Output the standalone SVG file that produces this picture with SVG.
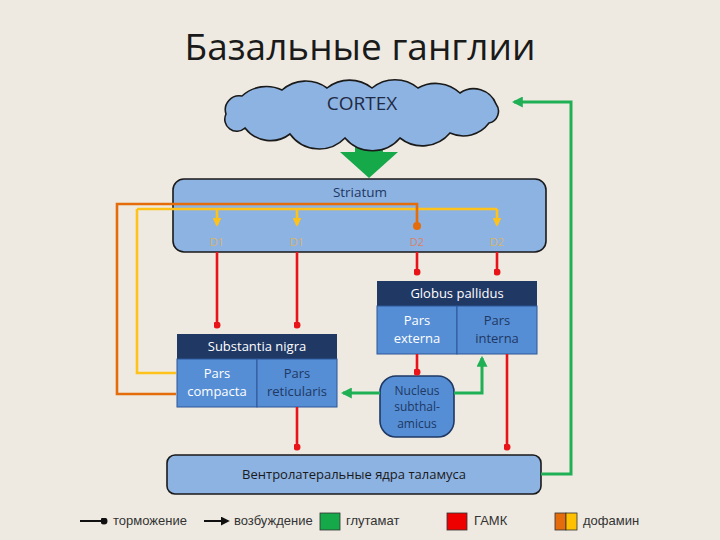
<svg xmlns="http://www.w3.org/2000/svg" width="720" height="540" viewBox="0 0 720 540">
<style>
.bg{fill:#EEEAE1}
.title{font-family:"Open Sans","Liberation Sans",sans-serif;font-size:37px;fill:#1a1a1a;text-anchor:middle}
.lbl{font-family:"Open Sans","Liberation Sans",sans-serif;text-anchor:middle}
.box{fill:#8DB3E2;stroke:#1a1a1a;stroke-width:1.6}
.hdr{fill:#1F3864}
.cell{fill:#558ED5;stroke:#2F5597;stroke-width:1}
.w{fill:#FFFFFF}
.d{fill:#1F3864}
.red{fill:none;stroke:#E8141A;stroke-width:2.6}
.grn{fill:none;stroke:#1FAF55;stroke-width:3}
.org{fill:none;stroke:#E46C0A;stroke-width:2.6}
.yel{fill:none;stroke:#FFC21A;stroke-width:2.6}
.blk{fill:none;stroke:#111;stroke-width:2}
.leg{font-family:"Liberation Sans",sans-serif;font-size:13px;fill:#333}
</style>
<defs>
<marker id="dotR" viewBox="0 0 10 10" refX="5" refY="5" markerWidth="7" markerHeight="7" markerUnits="userSpaceOnUse"><circle cx="5" cy="5" r="5" fill="#E8141A"/></marker>
<marker id="dotO" viewBox="0 0 10 10" refX="5" refY="5" markerWidth="8" markerHeight="8" markerUnits="userSpaceOnUse"><circle cx="5" cy="5" r="5" fill="#E46C0A"/></marker>
<marker id="dotK" viewBox="0 0 10 10" refX="5" refY="5" markerWidth="7" markerHeight="7" markerUnits="userSpaceOnUse"><circle cx="5" cy="5" r="5" fill="#111"/></marker>
<marker id="arY" viewBox="0 0 10 10" refX="8" refY="5" markerWidth="9" markerHeight="9" markerUnits="userSpaceOnUse" orient="auto"><path d="M0,0 L10,5 L0,10 z" fill="#FFC21A"/></marker>
<marker id="arG" viewBox="0 0 10 10" refX="8" refY="5" markerWidth="11" markerHeight="11" markerUnits="userSpaceOnUse" orient="auto"><path d="M0,0 L10,5 L0,10 z" fill="#1FAF55"/></marker>
<marker id="arK" viewBox="0 0 10 10" refX="8" refY="5" markerWidth="9" markerHeight="9" markerUnits="userSpaceOnUse" orient="auto"><path d="M0,0 L10,5 L0,10 z" fill="#111"/></marker>
</defs>
<rect class="bg" x="0" y="0" width="720" height="540"/>
<text class="title" x="360" y="60">Базальные ганглии</text>

<g id="cortex">
<polygon points="355,136 383,136 383,152 398,152 369,178 340,152 355,152" fill="#16A94A"/>
<path d="M 226 114 A 14 14 0 0 1 242 96 A 36 36 0 0 1 282 90 A 36 36 0 0 1 327 88 A 36 36 0 0 1 372 88 A 36 36 0 0 1 418 88 A 36 36 0 0 1 460 93 A 24 24 0 0 1 496 104 A 12 12 0 0 1 489 123 A 32 32 0 0 1 450 133 A 36 36 0 0 1 400 138 A 36 36 0 0 1 345 138 A 36 36 0 0 1 290 134 A 32 32 0 0 1 245 128 A 12 12 0 0 1 226 114 Z" class="box"/>
<text class="lbl" x="362" y="110" font-size="19" fill="#1F2A44">CORTEX</text>
</g>

<g id="striatum">
<rect class="box" x="173" y="179" width="373" height="73" rx="11"/>
<text class="lbl d" x="360" y="197" font-size="13.5">Striatum</text>
<text class="lbl" x="217" y="246" font-size="11" fill="#D8B36C">D1</text>
<text class="lbl" x="297" y="246" font-size="11" fill="#D8B36C">D1</text>
<text class="lbl" x="417" y="246" font-size="11" fill="#D9826A">D2</text>
<text class="lbl" x="497" y="246" font-size="11" fill="#D8B36C">D2</text>
</g>

<g id="globus-pallidus">
<rect class="hdr" x="377" y="281" width="160" height="25"/>
<text class="lbl w" x="457" y="298" font-size="13">Globus pallidus</text>
<rect class="cell" x="377" y="306" width="80" height="48"/>
<rect class="cell" x="457" y="306" width="80" height="48"/>
<text class="lbl w" x="417" y="325" font-size="13">Pars</text>
<text class="lbl w" x="417" y="343" font-size="13">externa</text>
<text class="lbl d" x="497" y="325" font-size="13">Pars</text>
<text class="lbl d" x="497" y="343" font-size="13">interna</text>
</g>

<g id="substantia-nigra">
<rect class="hdr" x="177" y="334" width="160" height="25"/>
<text class="lbl w" x="257" y="351" font-size="13">Substantia nigra</text>
<rect class="cell" x="177" y="359" width="80" height="48"/>
<rect class="cell" x="257" y="359" width="80" height="48"/>
<text class="lbl w" x="217" y="378" font-size="13">Pars</text>
<text class="lbl w" x="217" y="396" font-size="13">compacta</text>
<text class="lbl d" x="297" y="378" font-size="13">Pars</text>
<text class="lbl d" x="297" y="396" font-size="13">reticularis</text>
</g>

<g id="nucleus-subthalamicus">
<rect x="380" y="376" width="74" height="61" rx="16" fill="#558ED5" stroke="#1F3864" stroke-width="1.6"/>
<text class="lbl d" x="417" y="395" font-size="12">Nucleus</text>
<text class="lbl d" x="417" y="411" font-size="12">subthal-</text>
<text class="lbl d" x="417" y="428" font-size="12">amicus</text>
</g>

<g id="thalamus">
<rect class="box" x="167" y="455" width="374" height="39" rx="8"/>
<text class="lbl" x="354" y="479" font-size="13" fill="#1a1a1a">Вентролатеральные ядра таламуса</text>
</g>

<g id="connectors">
<path class="yel" d="M 137 209 L 497 209"/>
<path class="yel" d="M 176 373 L 137 373 L 137 209"/>
<path class="yel" d="M 217 209 L 217 225" marker-end="url(#arY)"/>
<path class="yel" d="M 297 209 L 297 225" marker-end="url(#arY)"/>
<path class="yel" d="M 497 209 L 497 225" marker-end="url(#arY)"/>
<path class="org" d="M 176 394 L 117 394 L 117 204 L 417 204 L 417 226" marker-end="url(#dotO)"/>
<path class="red" d="M 217 252 L 217 325" marker-end="url(#dotR)"/>
<path class="red" d="M 297 252 L 297 325" marker-end="url(#dotR)"/>
<path class="red" d="M 417 252 L 417 272" marker-end="url(#dotR)"/>
<path class="red" d="M 497 252 L 497 272" marker-end="url(#dotR)"/>
<path class="red" d="M 417 354 L 417 372" marker-end="url(#dotR)"/>
<path class="red" d="M 297 407 L 297 447" marker-end="url(#dotR)"/>
<path class="red" d="M 507 354 L 507 447" marker-end="url(#dotR)"/>
<path class="grn" d="M 380 393 L 343 393" marker-end="url(#arG)"/>
<path class="grn" d="M 454 393 L 482 393 L 482 358" marker-end="url(#arG)"/>
<path class="grn" d="M 541 474 L 571 474 L 571 102 L 514 102" marker-end="url(#arG)"/>
</g>

<g id="legend">
<path class="blk" d="M 80 521 L 104 521" marker-end="url(#dotK)"/>
<text class="leg" x="113" y="525">торможение</text>
<path class="blk" d="M 204 521 L 228 521" marker-end="url(#arK)"/>
<text class="leg" x="234" y="525">возбуждение</text>
<rect x="320" y="513" width="20" height="17" fill="#16A94A" stroke="#333" stroke-width="0.8"/>
<text class="leg" x="346" y="525">глутамат</text>
<rect x="447" y="513" width="20" height="17" fill="#EE0000" stroke="#333" stroke-width="0.8"/>
<text class="leg" x="474" y="525">ГАМК</text>
<rect x="555" y="513" width="11" height="17" fill="#E46C0A" stroke="#333" stroke-width="0.8"/>
<rect x="566" y="513" width="11" height="17" fill="#FFC000" stroke="#333" stroke-width="0.8"/>
<text class="leg" x="583" y="525">дофамин</text>
</g>
</svg>
